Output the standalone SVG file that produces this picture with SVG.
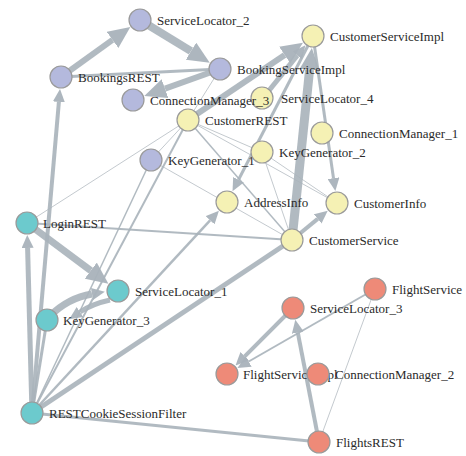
<svg xmlns="http://www.w3.org/2000/svg" width="466" height="456" viewBox="0 0 466 456">
<style>
.e{fill:none;stroke:#a9b2ba;stroke-opacity:0.9;stroke-linecap:butt}
.t{stroke-width:1;stroke:#bcc3c9}
.n circle{stroke:#9a9a9a;stroke-width:1.2}
.p circle{fill:#b4b9dd}
.y circle{fill:#f5f1b4}
.c circle{fill:#6ccacd}
.r circle{fill:#ee8a78}
text{font-family:"Liberation Serif","Times New Roman",serif;font-size:13px;fill:#2a2a2a}
</style>
<defs>
<marker id="aL" markerUnits="userSpaceOnUse" markerWidth="22" markerHeight="20" refX="0" refY="10" orient="auto"><path d="M0,0 L22,10 L0,20 z" fill="#a9b2ba" fill-opacity="0.95"/></marker>
<marker id="aM" markerUnits="userSpaceOnUse" markerWidth="13" markerHeight="12" refX="0" refY="6" orient="auto"><path d="M0,0 L13,6 L0,12 z" fill="#a9b2ba" fill-opacity="0.95"/></marker>
</defs>
<rect width="466" height="456" fill="#ffffff"/>
<g id="connectors">
<line class="e t" x1="220" y1="69" x2="188" y2="120"/>
<line class="e t" x1="27" y1="223" x2="188" y2="120"/>
<line class="e t" x1="188" y1="120" x2="262" y2="152"/>
<line class="e t" x1="188" y1="120" x2="337" y2="203"/>
<line class="e t" x1="188" y1="120" x2="151" y2="160"/>
<line class="e" stroke-width="1.5" x1="188" y1="120" x2="292" y2="240"/>
<line class="e t" x1="262" y1="152" x2="292" y2="240"/>
<line class="e t" x1="262" y1="152" x2="337" y2="203"/>
<line class="e t" x1="151" y1="160" x2="292" y2="240"/>
<line class="e t" x1="319" y1="442" x2="375" y2="289"/>
<line class="e" stroke-width="1.5" x1="32" y1="413" x2="151" y2="160"/>
<line class="e" stroke-width="2" x1="32" y1="413" x2="188" y2="120"/>
<line class="e" stroke-width="2" x1="27" y1="223" x2="292" y2="240"/>
<line class="e" stroke-width="3" x1="61" y1="77" x2="220" y2="69"/>
<line class="e" stroke-width="3" x1="32" y1="413" x2="47" y2="320"/>
<line class="e" stroke-width="3" x1="32" y1="413" x2="319" y2="442"/>
<line class="e" stroke-width="5" x1="32" y1="413" x2="292" y2="240"/>
<line class="e" stroke-width="6" x1="61" y1="77" x2="112.5" y2="39.9" marker-end="url(#aL)"/>
<line class="e" stroke-width="8" x1="140" y1="20" x2="191" y2="51.2" marker-end="url(#aL)"/>
<line class="e" stroke-width="6" x1="220" y1="69" x2="165" y2="88.6" marker-end="url(#aL)"/>
<line class="e" stroke-width="4" x1="32" y1="413" x2="58.9" y2="101.9" marker-end="url(#aM)"/>
<line class="e" stroke-width="5" x1="32" y1="413" x2="27.6" y2="248" marker-end="url(#aM)"/>
<line class="e" stroke-width="7" x1="27" y1="223" x2="90.8" y2="270.6" marker-end="url(#aL)"/>
<path class="e" stroke-width="7" d="M50,316 Q68,298 92,294" marker-end="url(#aM)"/>
<path class="e" stroke-width="5" d="M110,300 Q92,304 80,312" marker-end="url(#aM)"/>
<line class="e" stroke-width="2.5" x1="32" y1="413" x2="210.1" y2="220.3" marker-end="url(#aM)"/>
<line class="e" stroke-width="6" x1="188" y1="120" x2="284.7" y2="55" marker-end="url(#aL)"/>
<line class="e" stroke-width="5" x1="263" y1="98" x2="297.3" y2="55.4" marker-end="url(#aM)"/>
<line class="e" stroke-width="9" x1="292" y1="240" x2="309.6" y2="69.8" marker-end="url(#aL)"/>
<line class="e" stroke-width="3" x1="313" y1="36" x2="333.5" y2="178.2" marker-end="url(#aM)"/>
<line class="e" stroke-width="3" x1="313" y1="36" x2="238.5" y2="179.8" marker-end="url(#aM)"/>
<line class="e" stroke-width="4" x1="292" y1="240" x2="317.7" y2="218.9" marker-end="url(#aM)"/>
<line class="e" stroke-width="4" x1="293" y1="308" x2="244.7" y2="356.3" marker-end="url(#aM)"/>
<line class="e" stroke-width="2" x1="375" y1="289" x2="248.7" y2="361.5" marker-end="url(#aM)"/>
<line class="e" stroke-width="4" x1="319" y1="442" x2="297.8" y2="332.6" marker-end="url(#aM)"/>
</g>
<g id="ServiceLocator_2" class="n p"><circle cx="140" cy="20" r="11"/><text x="157" y="24.5">ServiceLocator_2</text></g>
<g id="BookingsREST" class="n p"><circle cx="61" cy="77" r="11"/><text x="78" y="81.5">BookingsREST</text></g>
<g id="BookingServiceImpl" class="n p"><circle cx="220" cy="69" r="11"/><text x="237" y="73.5">BookingServiceImpl</text></g>
<g id="ServiceLocator_4" class="n y"><circle cx="262" cy="98" r="11"/><text x="281" y="102.5">ServiceLocator_4</text></g>
<g id="ConnectionManager_3" class="n p"><circle cx="133" cy="100" r="11"/><text x="150" y="104.5">ConnectionManager_3</text></g>
<g id="KeyGenerator_1" class="n p"><circle cx="151" cy="160" r="11"/><text x="168" y="164.5">KeyGenerator_1</text></g>
<g id="CustomerServiceImpl" class="n y"><circle cx="313" cy="36" r="11"/><text x="330" y="40.5">CustomerServiceImpl</text></g>
<g id="CustomerREST" class="n y"><circle cx="188" cy="120" r="11"/><text x="205" y="124.5">CustomerREST</text></g>
<g id="ConnectionManager_1" class="n y"><circle cx="322" cy="133" r="11"/><text x="339" y="137.5">ConnectionManager_1</text></g>
<g id="KeyGenerator_2" class="n y"><circle cx="262" cy="152" r="11"/><text x="279" y="156.5">KeyGenerator_2</text></g>
<g id="AddressInfo" class="n y"><circle cx="227" cy="202" r="11"/><text x="244" y="206.5">AddressInfo</text></g>
<g id="CustomerInfo" class="n y"><circle cx="337" cy="203" r="11"/><text x="354" y="207.5">CustomerInfo</text></g>
<g id="CustomerService" class="n y"><circle cx="292" cy="240" r="11"/><text x="309" y="244.5">CustomerService</text></g>
<g id="LoginREST" class="n c"><circle cx="27" cy="223" r="11"/><text x="43" y="227.5">LoginREST</text></g>
<g id="ServiceLocator_1" class="n c"><circle cx="118" cy="291" r="11"/><text x="135" y="295.5">ServiceLocator_1</text></g>
<g id="KeyGenerator_3" class="n c"><circle cx="47" cy="320" r="11"/><text x="63" y="324.5">KeyGenerator_3</text></g>
<g id="RESTCookieSessionFilter" class="n c"><circle cx="32" cy="413" r="11"/><text x="49" y="417.5">RESTCookieSessionFilter</text></g>
<g id="FlightService" class="n r"><circle cx="375" cy="289" r="11"/><text x="392" y="293.5">FlightService</text></g>
<g id="ServiceLocator_3" class="n r"><circle cx="293" cy="308" r="11"/><text x="310" y="312.5">ServiceLocator_3</text></g>
<g id="FlightServiceImpl" class="n r"><circle cx="227" cy="374" r="11"/><text x="243" y="378.5">FlightServiceImpl</text></g>
<g id="ConnectionManager_2" class="n r"><circle cx="318" cy="374" r="11"/><text x="335" y="378.5">ConnectionManager_2</text></g>
<g id="FlightsREST" class="n r"><circle cx="319" cy="442" r="11"/><text x="336" y="446.5">FlightsREST</text></g>
</svg>
